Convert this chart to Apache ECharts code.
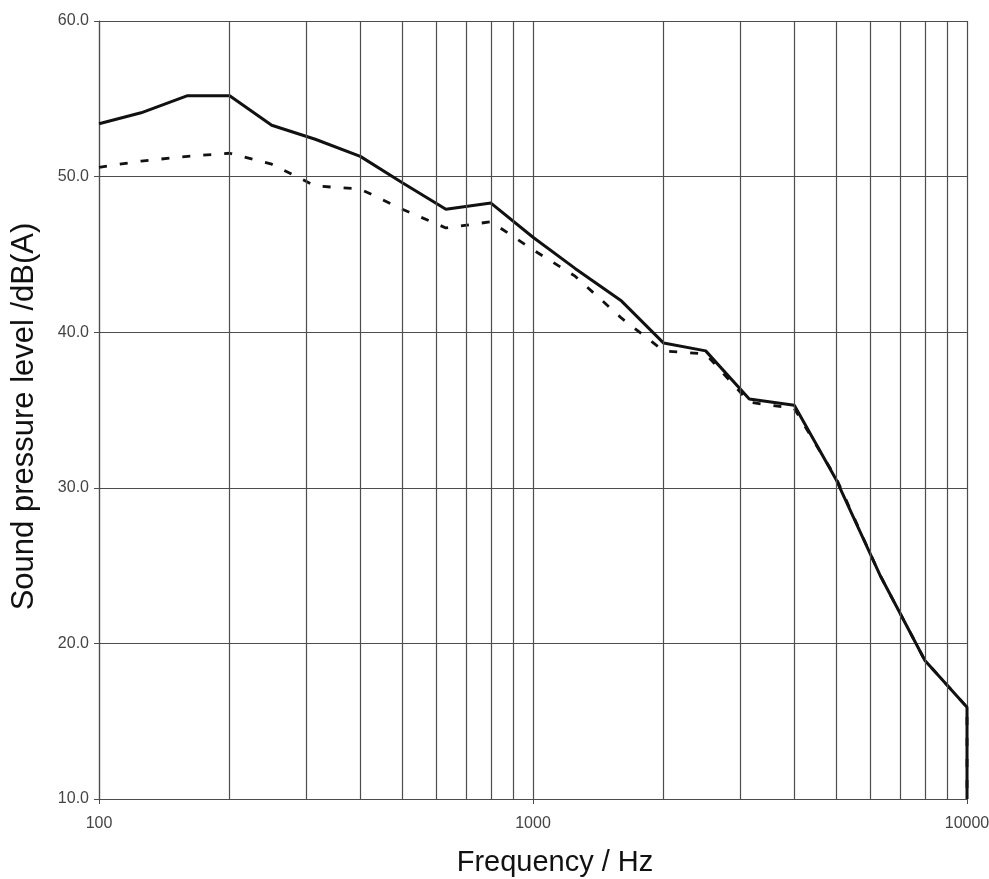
<!DOCTYPE html>
<html>
<head>
<meta charset="utf-8">
<title>Sound pressure level spectrum</title>
<script src="https://cdn.jsdelivr.net/npm/echarts@6/dist/echarts.min.js"></script>
<style>
  html, body { margin: 0; padding: 0; background: #ffffff; }
  #chart { width: 989px; height: 879px; }
</style>
</head>
<body>
<div id="chart"></div>
<script>
// One-third octave band centre frequencies (Hz); the last band repeats to draw the drop-off
const frequencies = [100, 125, 160, 200, 250, 315, 400, 500, 630, 800, 1000, 1250, 1600, 2000, 2500, 3150, 4000, 5000, 6300, 8000, 10000, 10000];
// Sound pressure level, dB(A)
const levelSolid  = [53.4, 54.1, 55.2, 55.2, 53.3, 52.4, 51.3, 49.6, 47.9, 48.3, 46.1, 44.1, 42.0, 39.3, 38.8, 35.7, 35.3, 30.5, 24.4, 18.9, 15.9, 10.0];
const levelDashed = [50.6, 51.0, 51.3, 51.5, 50.8, 49.4, 49.2, 47.9, 46.7, 47.1, 45.3, 43.6, 40.9, 38.8, 38.6, 35.5, 35.1, 30.6, 24.4, 18.9, 15.9, 10.0];
// Minor vertical grid positions on the logarithmic frequency axis
const minorGrid = [200, 300, 400, 500, 600, 700, 800, 900, 2000, 3000, 4000, 5000, 6000, 7000, 8000, 9000];
const yTicks = { min: 10, max: 60, step: 10 };

const gridColor = '#4d4d4d';
const font = 'Liberation Sans, Arial, sans-serif';

const chart = echarts.init(document.getElementById('chart'), null, { renderer: 'canvas' });

const pairs = (ys) => frequencies.map((f, i) => [f, ys[i]]);

chart.setOption({
  animation: false,
  backgroundColor: '#ffffff',
  grid: { left: 99, right: 22, top: 21, bottom: 80, containLabel: false, outerBoundsMode: 'none' },
  xAxis: {
    type: 'log',
    logBase: 10,
    min: 100,
    max: 10000,
    name: 'Frequency / Hz',
    nameLocation: 'middle',
    nameGap: 49,
    nameTextStyle: { fontFamily: font, fontSize: 29, color: '#111', padding: [0, 0, 0, 44] },
    axisLine: { show: true, lineStyle: { color: gridColor, width: 1.2 } },
    axisTick: { show: true, inside: false, length: 5, lineStyle: { color: gridColor } },
    axisLabel: {
      fontFamily: font, fontSize: 16, color: '#444', margin: 17,
      formatter: (v) => String(Math.round(v))
    },
    splitLine: { show: true, lineStyle: { color: gridColor, width: 1.2 } },
    minorTick: { show: false },
    minorSplitLine: { show: false }
  },
  yAxis: {
    type: 'value',
    min: yTicks.min,
    max: yTicks.max,
    interval: yTicks.step,
    name: 'Sound pressure level /dB(A)',
    nameLocation: 'middle',
    nameGap: 59,
    nameRotate: 90,
    nameTextStyle: { fontFamily: font, fontSize: 31, color: '#111', padding: [0, 13, 0, 0] },
    axisLine: { show: true, lineStyle: { color: gridColor, width: 1.2 } },
    axisTick: { show: true, inside: false, length: 5, lineStyle: { color: gridColor } },
    axisLabel: {
      fontFamily: font, fontSize: 16, color: '#444', margin: 10,
      formatter: (v) => v.toFixed(1)
    },
    splitLine: { show: true, lineStyle: { color: gridColor, width: 1.2 } }
  },
  series: [
    {
      name: 'dashed',
      type: 'line',
      data: pairs(levelDashed),
      showSymbol: false,
      symbol: 'none',
      lineStyle: { color: '#111', width: 2.8, type: [8, 13] },
      z: 3,
      markLine: {
        silent: true,
        symbol: 'none',
        label: { show: false },
        lineStyle: { color: gridColor, width: 1.2, type: 'solid' },
        data: minorGrid.map((f) => ({ xAxis: f }))
      }
    },
    {
      name: 'solid',
      type: 'line',
      data: pairs(levelSolid),
      showSymbol: false,
      symbol: 'none',
      lineStyle: { color: '#111', width: 3 },
      z: 4
    }
  ]
});
</script>
</body>
</html>
